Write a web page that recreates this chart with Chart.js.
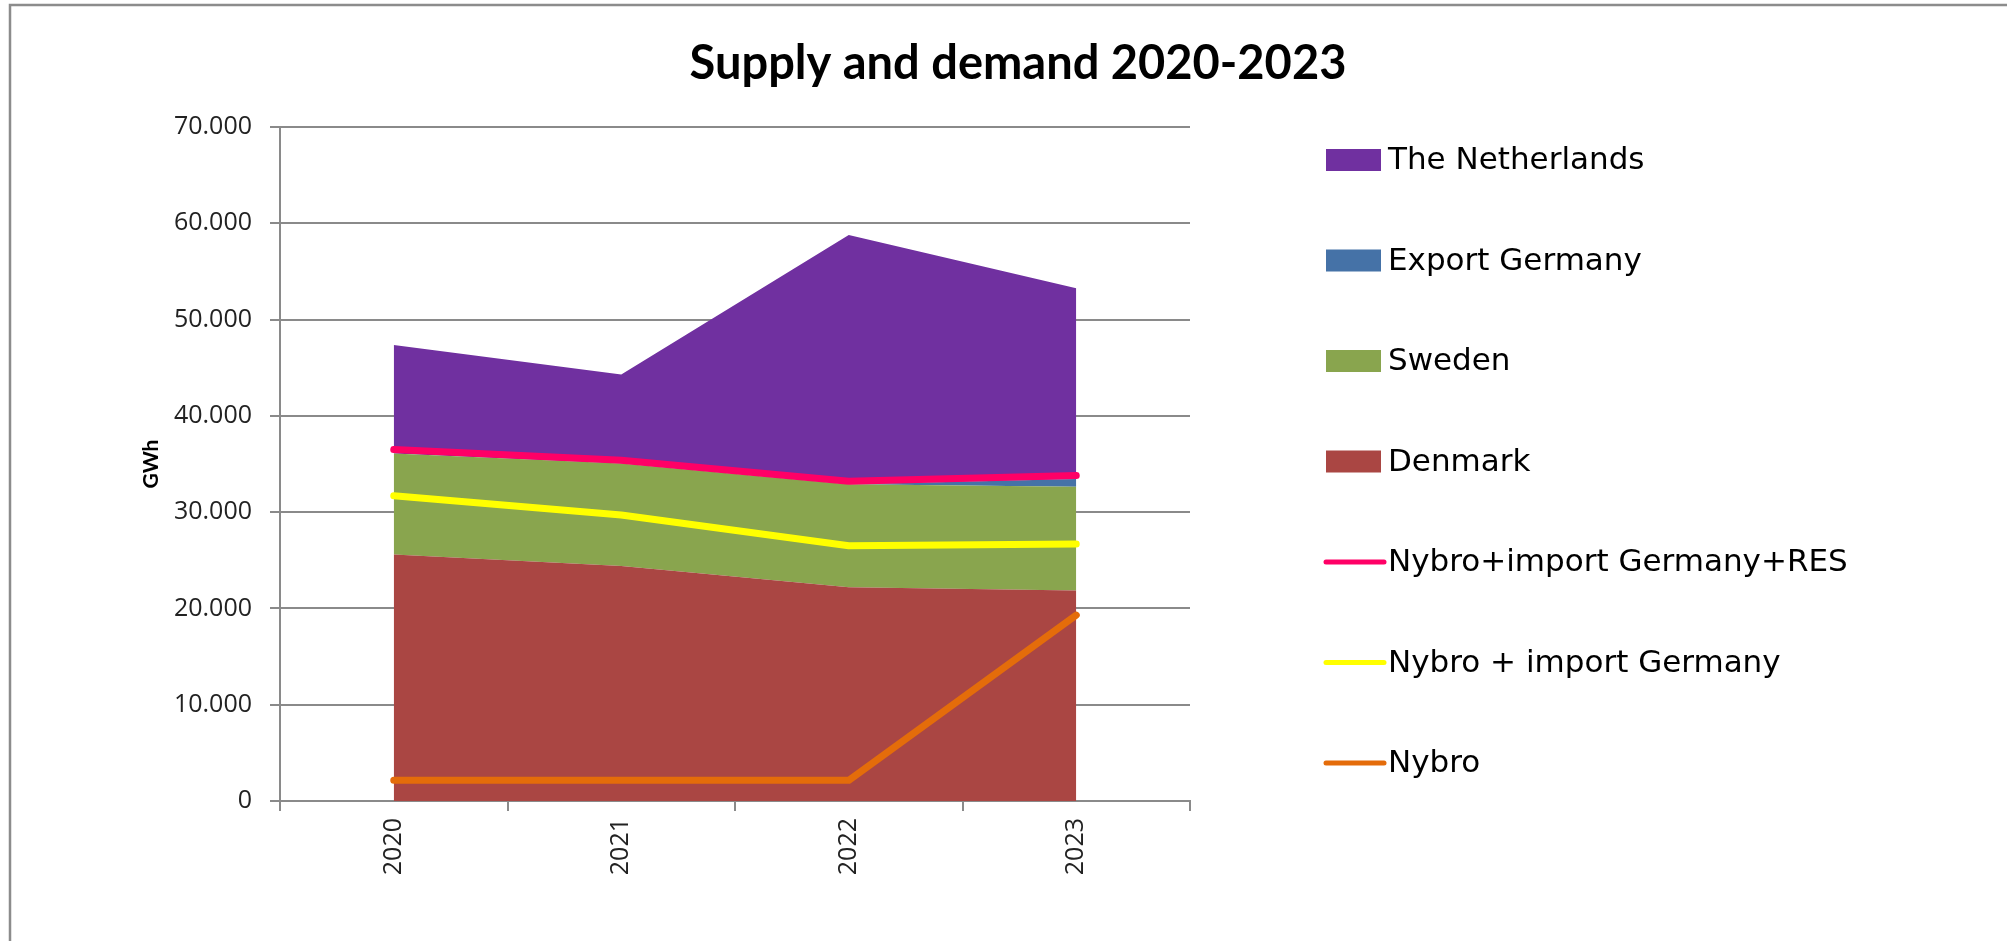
<!DOCTYPE html>
<html>
<head>
<meta charset="utf-8">
<title>Supply and demand 2020-2023</title>
<script src="https://cdn.jsdelivr.net/npm/chart.js@4.4.1/dist/chart.umd.min.js"></script>
<style>
  html, body { margin: 0; padding: 0; background: #fff; }
  #wrap { width: 2007px; height: 941px; }
</style>
</head>
<body>
<div id="wrap"><canvas id="supplyChart" width="2007" height="941"></canvas></div>
<script>
// values (GWh)
const years = ['2020', '2021', '2022', '2023']
const denmark = [25600, 24400, 22200, 21850]
const sweden = [10500, 10650, 10700, 10800]
const exportGermany = [0, 0, 0, 800]
const netherlands = [11250, 9250, 25880, 19800]
const nybroImportRes = [36500, 35400, 33200, 33800]
const nybroImport = [31700, 29700, 26500, 26700]
const nybro = [2150, 2150, 2150, 19300]

const legendOrder = [
  'The Netherlands',
  'Export Germany',
  'Sweden',
  'Denmark',
  'Nybro+import Germany+RES',
  'Nybro + import Germany',
  'Nybro',
]

const GRID = '#8a8a8a'
const TICK_FONT = { family: 'Open Sans', size: 25 }

function thousands(v) {
  return String(v).replace(/\B(?=(\d{3})+(?!\d))/g, '.')
}

// lines first so they are painted on top of the areas
const lineSet = (label, data, color, stack) => ({
  label,
  data,
  stack,
  borderColor: color,
  backgroundColor: color,
  borderWidth: 7,
  borderCapStyle: 'round',
  borderJoinStyle: 'round',
  pointRadius: 0,
  fill: false,
  tension: 0,
  isLine: true,
})

const areaSet = (label, data, color, fill) => ({
  label,
  data,
  stack: 'areas',
  borderColor: color,
  backgroundColor: color,
  borderWidth: 0,
  pointRadius: 0,
  fill,
  tension: 0,
})

const datasets = [
  lineSet('Nybro+import Germany+RES', nybroImportRes, '#FF0066', 'l1'),
  lineSet('Nybro + import Germany', nybroImport, '#FFFF00', 'l2'),
  lineSet('Nybro', nybro, '#E46C0A', 'l3'),
  areaSet('Denmark', denmark, '#AA4643', 'origin'),
  areaSet('Sweden', sweden, '#89A54E', '-1'),
  areaSet('Export Germany', exportGermany, '#4572A7', '-1'),
  areaSet('The Netherlands', netherlands, '#7030A0', '-1'),
]

// frame, title and legend drawn by hand so they sit where the reference has them
const decorPlugin = {
  id: 'decor',
  beforeDraw(chart) {
    const { ctx } = chart
    ctx.save()
    ctx.strokeStyle = '#8c8c8c'
    ctx.lineWidth = 2.5
    ctx.strokeRect(10, 5, 2200, 1100)
    ctx.restore()
  },
  afterDraw(chart) {
    const { ctx } = chart
    ctx.save()
    ctx.fillStyle = '#000'
    ctx.textAlign = 'center'
    ctx.textBaseline = 'middle'
    ctx.font = 'bold 47px Lato'
    ctx.fillText('Supply and demand 2020-2023', 1018, 64)

    ctx.textAlign = 'left'
    ctx.font = '31px "DejaVu Sans"'
    legendOrder.forEach((name, i) => {
      const ds = chart.data.datasets.find((d) => d.label === name)
      const y = 160 + i * 100.5
      if (ds.isLine) {
        ctx.strokeStyle = ds.borderColor
        ctx.lineWidth = 5
        ctx.lineCap = 'round'
        ctx.beginPath()
        ctx.moveTo(1326, y)
        ctx.lineTo(1384, y)
        ctx.stroke()
      } else {
        ctx.fillStyle = ds.backgroundColor
        ctx.fillRect(1326, y - 11, 55, 22)
      }
      ctx.fillStyle = '#000'
      ctx.fillText(name, 1388, y + 1)
    })
    ctx.restore()
  },
}

const canvas = document.getElementById('supplyChart')
new Chart(canvas.getContext('2d'), {
  type: 'line',
  data: { labels: years, datasets },
  plugins: [decorPlugin],
  options: {
    responsive: false,
    animation: false,
    layout: { padding: { left: 135, top: 127, right: 817, bottom: 0 } },
    plugins: {
      legend: { display: false },
      title: { display: false },
      tooltip: { enabled: false },
    },
    scales: {
      x: {
        offset: true,
        grid: {
          offset: true,
          drawOnChartArea: false,
          drawTicks: true,
          tickLength: 10,
          color: GRID,
          lineWidth: 2,
        },
        border: { display: true, color: GRID, width: 2 },
        ticks: {
          color: '#222',
          font: TICK_FONT,
          minRotation: 90,
          maxRotation: 90,
          padding: 7,
        },
        afterFit(scale) {
          scale.height = 140
        },
      },
      y: {
        stacked: true,
        min: 0,
        max: 70000,
        grid: { color: GRID, lineWidth: 2, tickLength: 10 },
        border: { display: true, color: GRID, width: 2 },
        ticks: {
          stepSize: 10000,
          color: '#222',
          font: TICK_FONT,
          padding: 18,
          callback: (v) => thousands(v),
        },
        title: {
          display: true,
          text: 'GWh',
          color: '#000',
          font: { family: 'Lato', size: 21, weight: 'bold' },
        },
        afterFit(scale) {
          scale.width = 145
        },
      },
    },
  },
})
</script>
</body>
</html>
